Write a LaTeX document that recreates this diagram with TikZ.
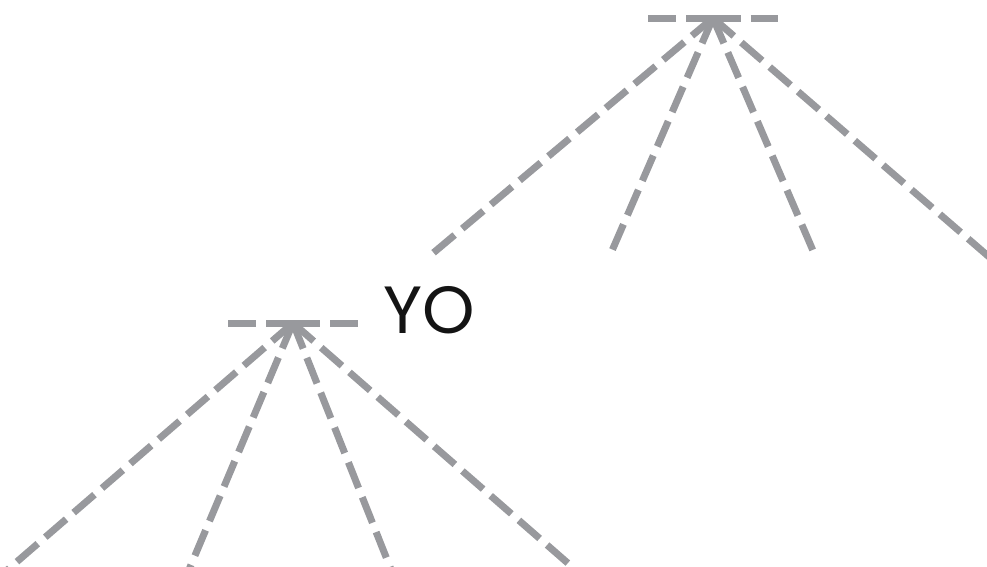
\documentclass[tikz,border=0pt]{standalone}
\usepackage{fontspec}
\setmainfont{Poppins}
\usetikzlibrary{positioning}
\definecolor{branch}{RGB}{152,153,157}
\definecolor{word}{RGB}{20,20,20}

\begin{document}
\begin{tikzpicture}[x=0.02cm,y=-0.02cm,
  br/.style={draw=branch,line width=0.14cm,dash pattern=on 0.55cm off 0.2cm},
  lbl/.style={text=word,font=\fontsize{38}{40}\selectfont,inner sep=0pt}]
  \clip (0,0) rectangle (987,566);
  \useasboundingbox (0,0) rectangle (987,566);
  % upper tree
  \coordinate (topA) at (713,18);
  \coordinate (topL) at (645,18); \coordinate (topR) at (783,18);
  \coordinate (topE1) at (432,254); \coordinate (topE2) at (611,253);
  \coordinate (topE3) at (814,253); \coordinate (topE4) at (995,262);
  \draw[br] (topA) -- (topL); \draw[br] (topA) -- (topR);
  \foreach \e in {topE1,topE2,topE3,topE4} \draw[br] (topA) -- (\e);
  % lower tree
  \coordinate (lowA) at (293,323);
  \coordinate (lowL) at (223,323); \coordinate (lowR) at (363,323);
  \coordinate (lowE1) at (5,572); \coordinate (lowE2) at (188,572);
  \coordinate (lowE3) at (392,572); \coordinate (lowE4) at (578,572);
  \draw[br] (lowA) -- (lowL); \draw[br] (lowA) -- (lowR);
  \foreach \e in {lowE1,lowE2,lowE3,lowE4} \draw[br] (lowA) -- (\e);
  % label
  \node[lbl] (yo) at (429,310) {YO};
\end{tikzpicture}
\end{document}
